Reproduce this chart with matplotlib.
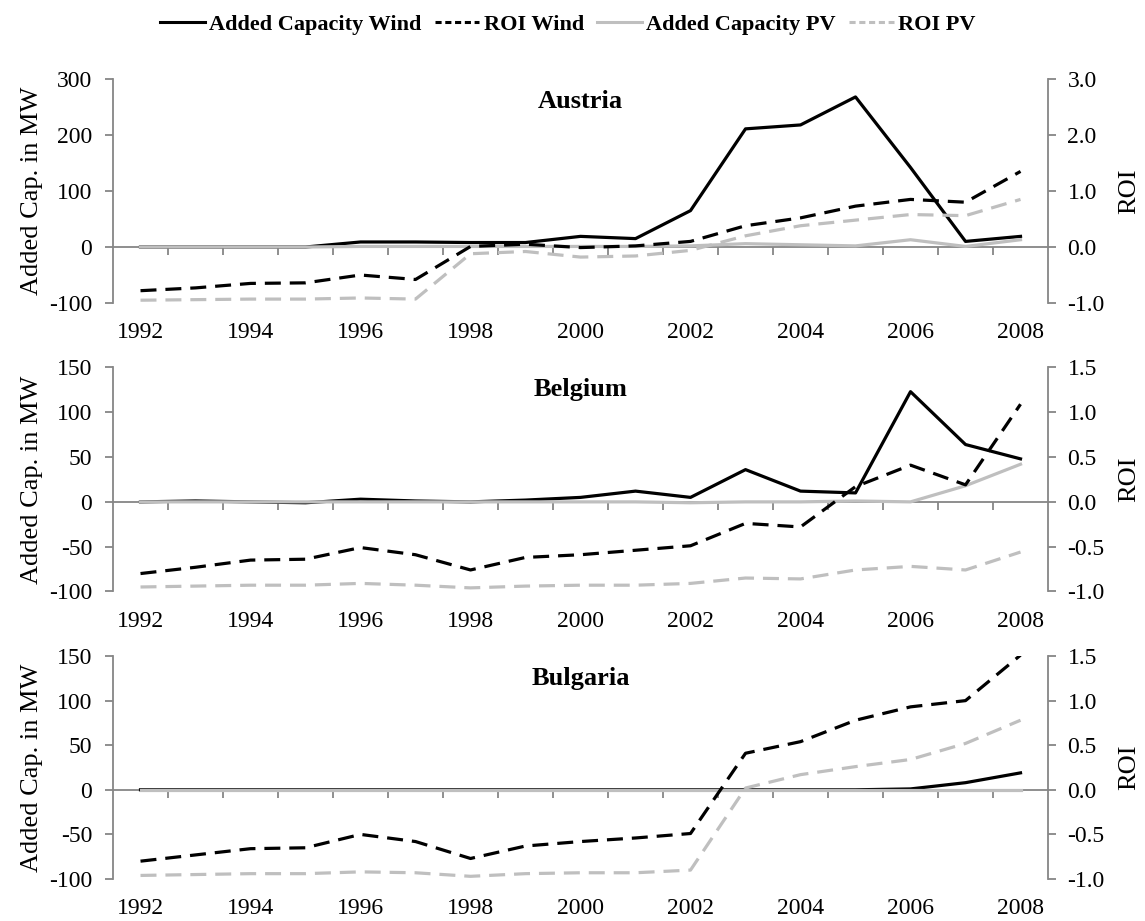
import matplotlib.pyplot as plt
from matplotlib.lines import Line2D
from matplotlib.ticker import FormatStrFormatter

plt.rcParams['font.family'] = ['Liberation Serif', 'DejaVu Serif']
plt.rcParams['axes.unicode_minus'] = False

# --- DATA ---
years = list(range(1992, 2009))

austria_cap_wind = [0, 0, 0, 0, 9, 9, 8, 8, 19, 15, 65, 211, 218, 268, 142, 10, 19]
austria_roi_wind = [-0.78, -0.73, -0.65, -0.64, -0.50, -0.58, 0.01, 0.05, -0.01, 0.02,
                    0.10, 0.38, 0.52, 0.73, 0.85, 0.80, 1.35]
austria_cap_pv = [0, 0, 0, 0, 1, 1, 1, 1, 1, 1, 2, 6, 4, 2, 13, 1, 13]
austria_roi_pv = [-0.95, -0.94, -0.93, -0.93, -0.91, -0.93, -0.12, -0.08, -0.18, -0.16,
                  -0.06, 0.20, 0.38, 0.48, 0.58, 0.56, 0.85]

belgium_cap_wind = [0, 1, 0, -1, 3, 1, 0, 2, 5, 12, 5, 36, 12, 10, 123, 64, 48]
belgium_roi_wind = [-0.80, -0.73, -0.65, -0.64, -0.51, -0.59, -0.76, -0.62, -0.59, -0.54,
                    -0.49, -0.24, -0.28, 0.17, 0.41, 0.19, 1.09]
belgium_cap_pv = [0, 0, 0, 0, 0, 0, 0, 0, 0, 0, -1, 0, 0, 1, 0, 18, 42]
belgium_roi_pv = [-0.95, -0.94, -0.93, -0.93, -0.91, -0.93, -0.96, -0.94, -0.93, -0.93,
                  -0.91, -0.85, -0.86, -0.76, -0.72, -0.76, -0.56]

bulgaria_cap_wind = [0, 0, 0, 0, 0, 0, 0, 0, 0, 0, 0, 0, 0, 0, 1, 8, 19]
bulgaria_roi_wind = [-0.80, -0.73, -0.66, -0.65, -0.50, -0.58, -0.77, -0.63, -0.58, -0.54,
                     -0.49, 0.41, 0.54, 0.78, 0.93, 1.00, 1.51]
bulgaria_cap_pv = [0] * 17
bulgaria_roi_pv = [-0.96, -0.95, -0.94, -0.94, -0.92, -0.93, -0.97, -0.94, -0.93, -0.93,
                   -0.90, 0.02, 0.17, 0.26, 0.34, 0.52, 0.78]

countries = ['Austria', 'Belgium', 'Bulgaria']
cap_wind = [austria_cap_wind, belgium_cap_wind, bulgaria_cap_wind]
roi_wind = [austria_roi_wind, belgium_roi_wind, bulgaria_roi_wind]
cap_pv = [austria_cap_pv, belgium_cap_pv, bulgaria_cap_pv]
roi_pv = [austria_roi_pv, belgium_roi_pv, bulgaria_roi_pv]
cap_limits = [(-100, 300, 100), (-100, 150, 50), (-100, 150, 50)]

# --- STYLE ---
axis_gray = '#868686'
pv_gray = '#bfbfbf'
lw = 2.3

fig = plt.figure(figsize=(11.45, 9.21), dpi=100)
left, width = 0.0987, 0.8166
bottoms = [0.671, 0.3578, 0.0456]
heights = [0.2432, 0.2432, 0.2421]

for i, name in enumerate(countries):
    ax = fig.add_axes([left, bottoms[i], width, heights[i]])
    ax2 = ax.twinx()

    ax.plot(years, cap_wind[i], color='black', lw=lw, zorder=3)
    ax.plot(years, cap_pv[i], color=pv_gray, lw=lw, zorder=4)
    ax2.plot(years, roi_wind[i], color='black', lw=lw, dashes=(5, 2.8))
    ax2.plot(years, roi_pv[i], color=pv_gray, lw=lw, dashes=(5, 2.8))

    ymin, ymax, step = cap_limits[i]
    ax.set_xlim(1991.5, 2008.5)
    ax.set_ylim(ymin, ymax)
    ax.set_yticks(range(ymin, ymax + 1, step))
    ax2.set_ylim(ymin / 100, ymax / 100)
    ax2.set_yticks([v / 100 for v in range(ymin, ymax + 1, step)])
    ax2.yaxis.set_major_formatter(FormatStrFormatter('%.1f'))

    for a in (ax, ax2):
        a.spines['top'].set_visible(False)
        a.spines['bottom'].set_visible(False)
    ax.spines['right'].set_visible(False)
    ax2.spines['left'].set_visible(False)
    ax.spines['left'].set_color(axis_gray)
    ax2.spines['right'].set_color(axis_gray)
    ax.spines['left'].set_linewidth(1.3)
    ax2.spines['right'].set_linewidth(1.3)

    ax.tick_params(axis='y', length=6, width=1.3, color=axis_gray, pad=9, labelsize=17)
    ax2.tick_params(axis='y', length=6, width=1.3, color=axis_gray, pad=8, labelsize=17)

    # year labels below the plot
    ax.set_xticks(years[::2])
    ax.tick_params(axis='x', length=0, pad=14, labelsize=17)

    # horizontal axis line at zero with ticks between categories
    zero = ax.secondary_xaxis(-ymin / (ymax - ymin))
    zero.set_xticks([y + 0.5 for y in years[:-1]])
    zero.tick_params(axis='x', length=6, width=1.3, color=axis_gray, labelbottom=False)
    zero.spines['bottom'].set_color(axis_gray)
    zero.spines['bottom'].set_linewidth(1.3)

    ax.set_ylabel('Added Cap. in MW', fontsize=19, labelpad=4)
    ax2.set_ylabel('ROI', fontsize=19, labelpad=10)

    ax.text(0.5, 0.9, name, transform=ax.transAxes, ha='center', va='center',
            fontsize=19, fontweight='bold')

handles = [
    Line2D([], [], color='black', lw=2.2),
    Line2D([], [], color='black', lw=2.2, dashes=(2, 1.2)),
    Line2D([], [], color=pv_gray, lw=2.2),
    Line2D([], [], color=pv_gray, lw=2.2, dashes=(2, 1.2)),
]
labels = ['Added Capacity Wind', 'ROI Wind', 'Added Capacity PV', 'ROI PV']
fig.legend(handles, labels, loc='center', bbox_to_anchor=(568 / 1145, 1 - 25 / 921),
           ncol=4, frameon=False, handlelength=2.0, handletextpad=0.2, columnspacing=0.6,
           prop=dict(family='Liberation Serif', weight='bold', size=16))

fig.savefig('out.png', dpi=100)
